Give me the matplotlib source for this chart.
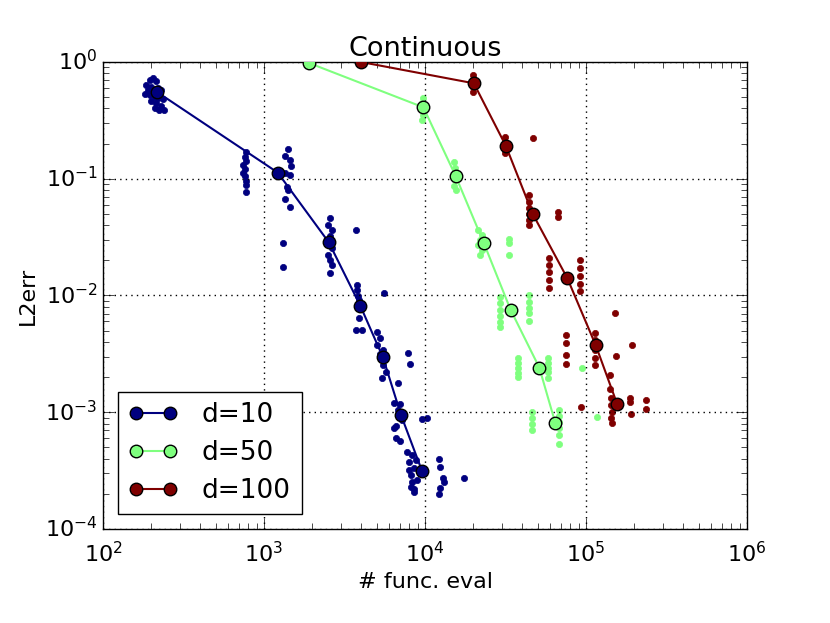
import numpy as np
import matplotlib
matplotlib.use("Agg")
import matplotlib.pyplot as plt

plt.style.use("classic")

# mean curves
d10_evals = [215, 1216, 2523, 3963, 5483, 7096, 9568]
d10_err = [0.557, 0.113, 0.0286, 0.00818, 0.00295, 0.000946, 0.000316]
d50_evals = [1905, 9770, 15500, 23200, 34000, 51300, 64400]
d50_err = [0.98, 0.409, 0.1056, 0.0281, 0.00755, 0.00241, 0.000812]
d100_evals = [4000, 20100, 31800, 46700, 76600, 115000, 156000]
d100_err = [1.0, 0.657, 0.191, 0.0499, 0.01403, 0.00374, 0.00118]

# individual runs, stored as log10 values
d10_runs_log_evals = [
    2.29, 2.31, 2.33, 2.27, 2.30, 2.34, 2.26, 2.29, 2.32, 2.35, 2.37, 2.30, 2.33, 2.36, 2.32, 2.35, 2.38, 2.28, 2.36, 2.34,
    2.89, 2.88, 2.89, 2.87, 2.88, 2.87, 2.88, 2.89, 2.89, 2.89,
    3.15, 3.13, 3.16, 3.17, 3.13, 3.16, 3.14, 3.15, 3.13, 3.16, 3.12, 3.12,
    3.41, 3.40, 3.42, 3.41, 3.39, 3.42, 3.40, 3.41, 3.42, 3.41, 3.573,
    3.575, 3.58, 3.585, 3.59, 3.59, 3.57, 3.61, 3.748,
    3.70, 3.72, 3.70, 3.74, 3.72, 3.75, 3.74, 3.755, 3.73, 3.893, 3.904, 3.831,
    3.81, 3.842, 3.83, 3.86, 3.805, 3.818, 3.818, 3.842, 3.85, 3.984, 4.015,
    3.891, 3.922, 3.903, 3.934, 3.916, 3.953, 3.916, 3.934, 3.903, 3.947, 3.92, 3.93,
    4.09, 4.094, 4.109, 4.115, 4.241, 4.094, 4.086,
]
d10_runs_log_err = [
    -0.15, -0.14, -0.16, -0.20, -0.21, -0.22, -0.27, -0.28, -0.30, -0.28, -0.32, -0.33, -0.35, -0.38, -0.39, -0.41, -0.41, -0.24, -0.24, -0.31,
    -0.77, -0.81, -0.85, -0.88, -0.92, -0.95, -0.98, -1.02, -1.05, -1.11,
    -0.745, -0.805, -0.839, -0.891, -0.951, -0.968, -1.071, -1.096, -1.173, -1.242, -1.55, -1.756,
    -1.336, -1.396, -1.439, -1.49, -1.542, -1.593, -1.653, -1.696, -1.739, -1.807, -1.439,
    -1.91, -1.953, -2.004, -2.039, -2.193, -2.296, -2.296, -1.979,
    -2.31, -2.364, -2.424, -2.467, -2.50, -2.527, -2.595, -2.655, -2.707, -2.495, -2.589, -2.752,
    -2.921, -2.929, -2.981, -3.066, -3.135, -3.118, -3.221, -3.246, -3.0, -3.058, -3.049,
    -3.34, -3.366, -3.426, -3.478, -3.537, -3.58, -3.64, -3.683, -3.495, -3.409, -3.60, -3.66,
    -3.403, -3.466, -3.561, -3.598, -3.566, -3.651, -3.703,
]

d50_runs_log_evals = [
    3.27, 3.28, 3.29,
    3.985, 3.98, 3.99, 3.985, 3.98,
    4.18, 4.185, 4.18, 4.185, 4.18, 4.19,
    4.332, 4.351, 4.34, 4.332, 4.351, 4.34, 4.519, 4.519, 4.519,
    4.463, 4.463, 4.463, 4.463, 4.463, 4.463, 4.649, 4.649, 4.649, 4.649, 4.649,
    4.575, 4.575, 4.575, 4.575, 4.575, 4.761, 4.761, 4.761, 4.761, 4.761, 4.976,
    4.662, 4.662, 4.662, 4.662, 4.835, 4.835, 4.835, 4.835, 4.835, 4.835, 5.068,
]
d50_runs_log_err = [
    -0.01, -0.01, -0.01,
    -0.308, -0.351, -0.411, -0.454, -0.497,
    -0.857, -0.908, -0.959, -1.011, -1.062, -1.096,
    -1.439, -1.482, -1.525, -1.567, -1.61, -1.653, -1.519, -1.553, -1.653,
    -2.013, -2.064, -2.124, -2.175, -2.227, -2.27, -1.996, -2.056, -2.107, -2.15, -2.219,
    -2.535, -2.578, -2.621, -2.664, -2.698, -2.535, -2.578, -2.621, -2.655, -2.707, -2.621,
    -2.998, -3.049, -3.101, -3.152, -2.981, -3.032, -3.084, -3.135, -3.195, -3.272, -3.043,
]

d100_runs_log_evals = [
    3.59, 3.60, 3.61,
    4.301, 4.301, 4.301, 4.301,
    4.494, 4.494, 4.494, 4.494, 4.67,
    4.649, 4.649, 4.649, 4.649, 4.649, 4.649, 4.825, 4.825,
    4.773, 4.773, 4.773, 4.773, 4.773, 4.96, 4.96, 4.96, 4.96, 4.96,
    5.059, 5.059, 5.059, 5.059, 5.059, 4.873, 4.873, 4.873, 4.873, 5.183, 5.283, 5.189,
    5.146, 5.146, 5.155, 5.155, 5.164, 5.155, 5.16, 5.276, 5.276, 5.282, 5.374, 5.374, 4.97,
]
d100_runs_log_err = [
    -0.01, -0.01, -0.01,
    -0.111, -0.154, -0.214, -0.257,
    -0.642, -0.685, -0.737, -0.779, -0.648,
    -1.139, -1.199, -1.25, -1.302, -1.353, -1.396, -1.282, -1.33,
    -1.679, -1.739, -1.799, -1.867, -1.936, -1.696, -1.764, -1.833, -1.901, -1.961,
    -2.321, -2.381, -2.467, -2.535, -2.595, -2.338, -2.407, -2.51, -2.587, -2.15, -2.424, -2.522,
    -2.681, -2.8, -2.878, -2.938, -2.998, -3.049, -3.092, -2.878, -2.912, -3.015, -2.895, -2.972, -2.951,
]

labels = ["d=10", "d=50", "d=100"]
colors = ["#00007f", "#7fff7f", "#7f0000"]
means = [(d10_evals, d10_err), (d50_evals, d50_err), (d100_evals, d100_err)]
runs = [(d10_runs_log_evals, d10_runs_log_err),
        (d50_runs_log_evals, d50_runs_log_err),
        (d100_runs_log_evals, d100_runs_log_err)]

fig = plt.figure(figsize=(8.3, 6.23), dpi=100, facecolor="white")
ax = fig.add_axes([0.1241, 0.1509, 0.7759, 0.7496])

for (lx, ly), (mx, my), c, lab in zip(runs, means, colors, labels):
    ax.plot(10 ** np.array(lx), 10 ** np.array(ly), "o", color=c, mec=c,
            ms=4.5, zorder=2)
    ax.plot(mx, my, "-o", color=c, lw=1.5, ms=9, mfc=c, mec="black",
            mew=1.0, label=lab, zorder=3)

ax.set_xscale("log")
ax.set_yscale("log")
ax.set_xlim(1e2, 1e6)
ax.set_ylim(1e-4, 1e0)
ax.grid(True, which="major", linestyle=":", color="black", lw=1)
ax.tick_params(labelsize=16, which="both", direction="in")
ax.tick_params(which="major", length=8)
ax.tick_params(which="minor", length=4)
ax.tick_params(axis="x", pad=9)
ax.set_xlabel("# func. eval", fontsize=16, labelpad=4)
ax.set_ylabel("L2err", fontsize=16)
ax.set_title("Continuous", fontsize=19.5, pad=4)

ax.legend(loc="lower left", numpoints=2, fontsize=19, frameon=True,
          fancybox=False, borderaxespad=0.55, handlelength=1.9,
          handletextpad=0.9, labelspacing=0.45)

fig.savefig("out.png", dpi=100, facecolor="white")
